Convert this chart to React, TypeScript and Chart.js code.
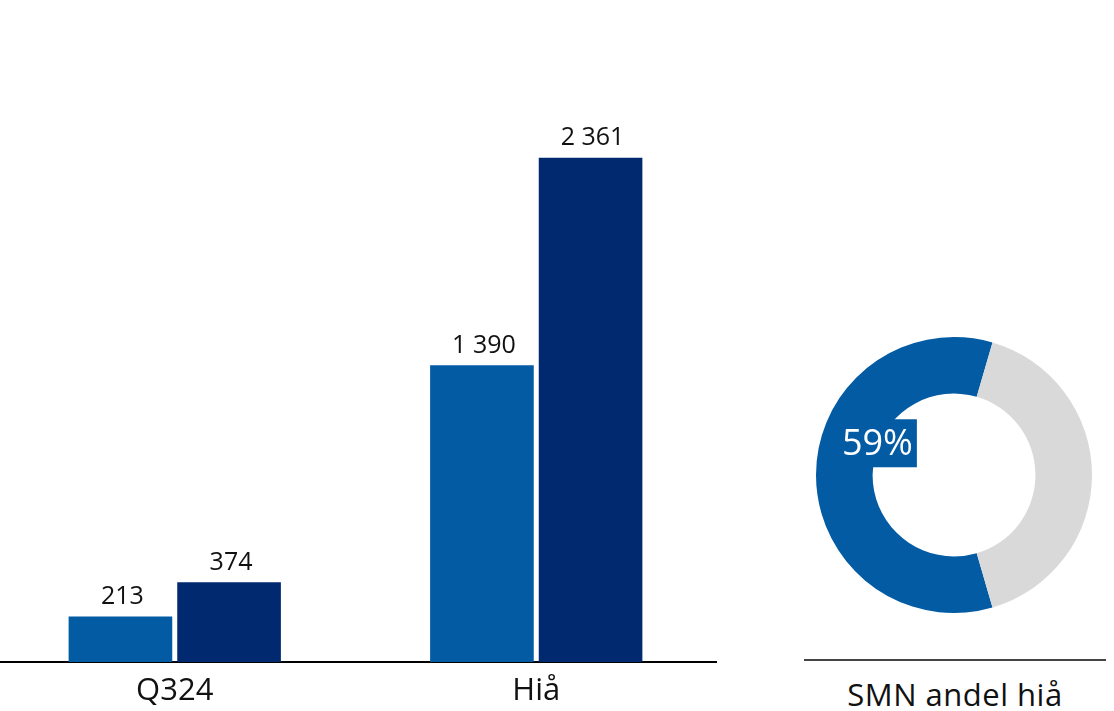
import React, { useEffect, useRef } from "react";
import { Chart, registerables } from "chart.js";

Chart.register(...registerables);

const categories = ["Q324", "Hiå"];
const seriesA = [213, 1390];
const seriesB = [374, 2361];
const shareLabels = ["SMN", "Øvrige"];
const shareValues = [59, 41];
const shareTitle = "SMN andel hiå";

const BLUE = "#035BA4";
const NAVY = "#01296F";
const GREY = "#D9D9D9";
const FONT = "'Open Sans', sans-serif";

const fmt = (v: number) => {
  const s = String(Math.round(v));
  return s.replace(/\B(?=(\d{3})+(?!\d))/g, " ");
};

const barLabelPlugin = {
  id: "barLabels",
  afterDatasetsDraw(chart: any) {
    const ctx = chart.ctx;
    ctx.save();
    ctx.fillStyle = "#111";
    ctx.font = `25px ${FONT}`;
    ctx.textAlign = "center";
    ctx.textBaseline = "bottom";
    chart.data.datasets.forEach((ds: any, di: number) => {
      const meta = chart.getDatasetMeta(di);
      meta.data.forEach((el: any, i: number) => {
        ctx.fillText(fmt(ds.data[i]), el.x + 2, el.y - 7);
      });
    });
    ctx.restore();
  },
};

const donutLabelPlugin = {
  id: "donutLabel",
  afterDatasetsDraw(chart: any) {
    const ctx = chart.ctx;
    const meta = chart.getDatasetMeta(0);
    const arc = meta.data[0];
    if (!arc) return;
    const r = arc.outerRadius;
    const cx = arc.x - r * 0.555;
    const cy = arc.y - r * 0.23;
    const text = `${chart.data.datasets[0].data[0]}%`;
    ctx.save();
    ctx.font = `36px ${FONT}`;
    const w = ctx.measureText(text).width;
    ctx.fillStyle = BLUE;
    ctx.fillRect(cx - w / 2 - 6, cy - 24, w + 10, 48);
    ctx.fillStyle = "#fff";
    ctx.textAlign = "center";
    ctx.textBaseline = "middle";
    ctx.fillText(text, cx, cy + 1);
    ctx.restore();
  },
};

export default function App() {
  const barRef = useRef<HTMLCanvasElement>(null);
  const donutRef = useRef<HTMLCanvasElement>(null);

  useEffect(() => {
    const bar = new Chart(barRef.current!, {
      type: "bar",
      data: {
        labels: categories,
        datasets: [
          { label: "A", data: seriesA, backgroundColor: BLUE, categoryPercentage: 0.601, barPercentage: 0.954 },
          { label: "B", data: seriesB, backgroundColor: NAVY, categoryPercentage: 0.601, barPercentage: 0.954 },
        ],
      },
      options: {
        responsive: false,
        animation: false,
        maintainAspectRatio: false,
        layout: { padding: 0 },
        plugins: { legend: { display: false }, tooltip: { enabled: false } },
        scales: {
          x: {
            grid: { display: false, drawTicks: false },
            border: { display: true, color: "#000", width: 2 },
            ticks: { color: "#111", font: { family: FONT, size: 31 }, padding: 11 },
            afterFit: (s: any) => {
              s.height = 49;
            },
          },
          y: {
            display: false,
            min: 0,
            max: 3100,
          },
        },
      },
      plugins: [barLabelPlugin],
    });

    const donut = new Chart(donutRef.current!, {
      type: "doughnut",
      data: {
        labels: shareLabels,
        datasets: [
          {
            data: shareValues,
            backgroundColor: [BLUE, GREY],
            borderWidth: 0,
          },
        ],
      },
      options: {
        responsive: false,
        animation: false,
        maintainAspectRatio: false,
        cutout: "59%",
        rotation: 90 + (shareValues[1] / (shareValues[0] + shareValues[1])) * 180,
        layout: { padding: 0 },
        plugins: { legend: { display: false }, tooltip: { enabled: false } },
      },
      plugins: [donutLabelPlugin],
    });

    return () => {
      bar.destroy();
      donut.destroy();
    };
  }, []);

  return (
    <div style={{ position: "fixed", left: 0, top: 0, width: 1114, height: 711, background: "#fff", fontFamily: FONT, overflow: "hidden" }}>
      <canvas ref={barRef} width={723} height={711} style={{ position: "absolute", left: -6, top: 0 }} />
      <canvas ref={donutRef} width={276} height={276} style={{ position: "absolute", left: 816, top: 337 }} />
      <div style={{ position: "absolute", left: 804, top: 659, width: 302, height: 0, borderTop: "2px solid #444" }} />
      <div
        style={{
          position: "absolute",
          left: 790,
          top: 674,
          width: 330,
          textAlign: "center",
          fontSize: 31,
          lineHeight: "40px",
          color: "#111",
          letterSpacing: "0.5px",
        }}
      >
        {shareTitle}
      </div>
    </div>
  );
}
